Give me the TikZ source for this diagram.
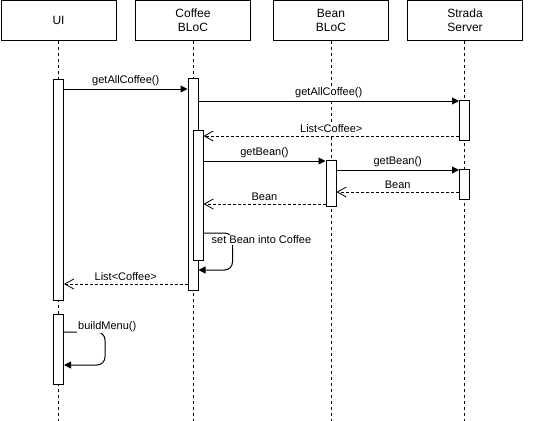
\documentclass[tikz,border=0pt]{standalone}
\usepackage{fontspec}
\setmainfont{Liberation Sans}
\usetikzlibrary{arrows.meta,calc}
\begin{document}
\begin{tikzpicture}[x=1pt,y=-1pt,
  every node/.style={font=\fontsize{11}{13}\selectfont, text=black},
  header/.style={draw, line width=1pt, minimum width=115pt, minimum height=40pt, inner sep=0pt, align=center, font=\fontsize{12}{14}\selectfont},
  lifeline/.style={line width=0.8pt, dash pattern=on 3pt off 3pt},
  act/.style={draw, fill=white, line width=1pt, minimum width=10pt, inner sep=0pt, anchor=north},
  msg/.style={line width=1pt, -{Triangle[length=7pt,width=7pt]}},
  ret/.style={line width=0.8pt, dash pattern=on 3pt off 2pt, -{Straight Barb[length=9pt,width=10pt,line width=0.8pt]}},
  lbl/.style={midway, above, fill=white, inner sep=1.5pt, yshift=1pt},
  slbl/.style={fill=white, inner sep=1pt, anchor=west}
]
\useasboundingbox (0,0) rectangle (542,421);
% headers
\node[header] (ui) at (58.5,20.5) {UI};
\node[header] (cb) at (193,20.5) {Coffee\\BLoC};
\node[header] (bb) at (331,20.5) {Bean\\BLoC};
\node[header] (ss) at (465,20.5) {Strada\\Server};
% lifeline ends
\coordinate (uie) at (58.5,421);
\coordinate (cbe) at (193,421);
\coordinate (bbe) at (331,421);
\coordinate (sse) at (464.5,421);
\draw[lifeline] (ui.south -| uie) -- (uie);
\draw[lifeline] (cb.south -| cbe) -- (cbe);
\draw[lifeline] (bb.south -| bbe) -- (bbe);
\draw[lifeline] (ss.south -| sse) -- (sse);
% activations
\node[act, minimum height=221pt] (ua1) at (58.5,79) {};
\node[act, minimum height=70pt] (ua2) at (58.5,314) {};
\node[act, minimum height=212pt] (ca1) at (193,78) {};
\node[act, minimum height=130pt] (ca2) at (198,130) {};
\node[act, minimum height=46pt] (ba) at (331,160) {};
\node[act, minimum height=40pt] (sa1) at (464.5,100) {};
\node[act, minimum height=30pt] (sa2) at (464.5,169) {};
% messages
\draw[msg] (ua1.east |- 0,89) -- node[lbl] {getAllCoffee()} (ca1.west |- 0,89);
\draw[msg] (ca1.east |- 0,101) -- node[lbl] {getAllCoffee()} (sa1.west |- 0,101);
\draw[ret] (sa1.west |- 0,136) -- node[lbl] {List<Coffee>} (ca2.east |- 0,136);
\draw[msg] (ca2.east |- 0,161) -- node[lbl] {getBean()} (ba.west |- 0,161);
\draw[msg] (ba.east |- 0,170) -- node[lbl] {getBean()} (sa2.west |- 0,170);
\draw[ret] (sa2.west |- 0,192) -- node[lbl] {Bean} (ba.east |- 0,192);
\draw[ret] (ba.west |- 0,204) -- node[lbl] {Bean} (ca2.east |- 0,204);
\draw[msg, rounded corners=8pt] (ca2.east |- 0,233) -- ++(29,0) |- (ca1.east |- 0,270);
\node[slbl] (sbl) at (210.5,240) {set Bean into Coffee};
\draw[ret] (ca1.west |- 0,284) -- node[lbl] {List<Coffee>} (ua1.east |- 0,284);
\draw[msg, rounded corners=8pt] (ua2.east |- 0,332) -- ++(41,0) |- (ua2.east |- 0,365);
\node[slbl] (bml) at (77,326.5) {buildMenu()};
\end{tikzpicture}
\end{document}
